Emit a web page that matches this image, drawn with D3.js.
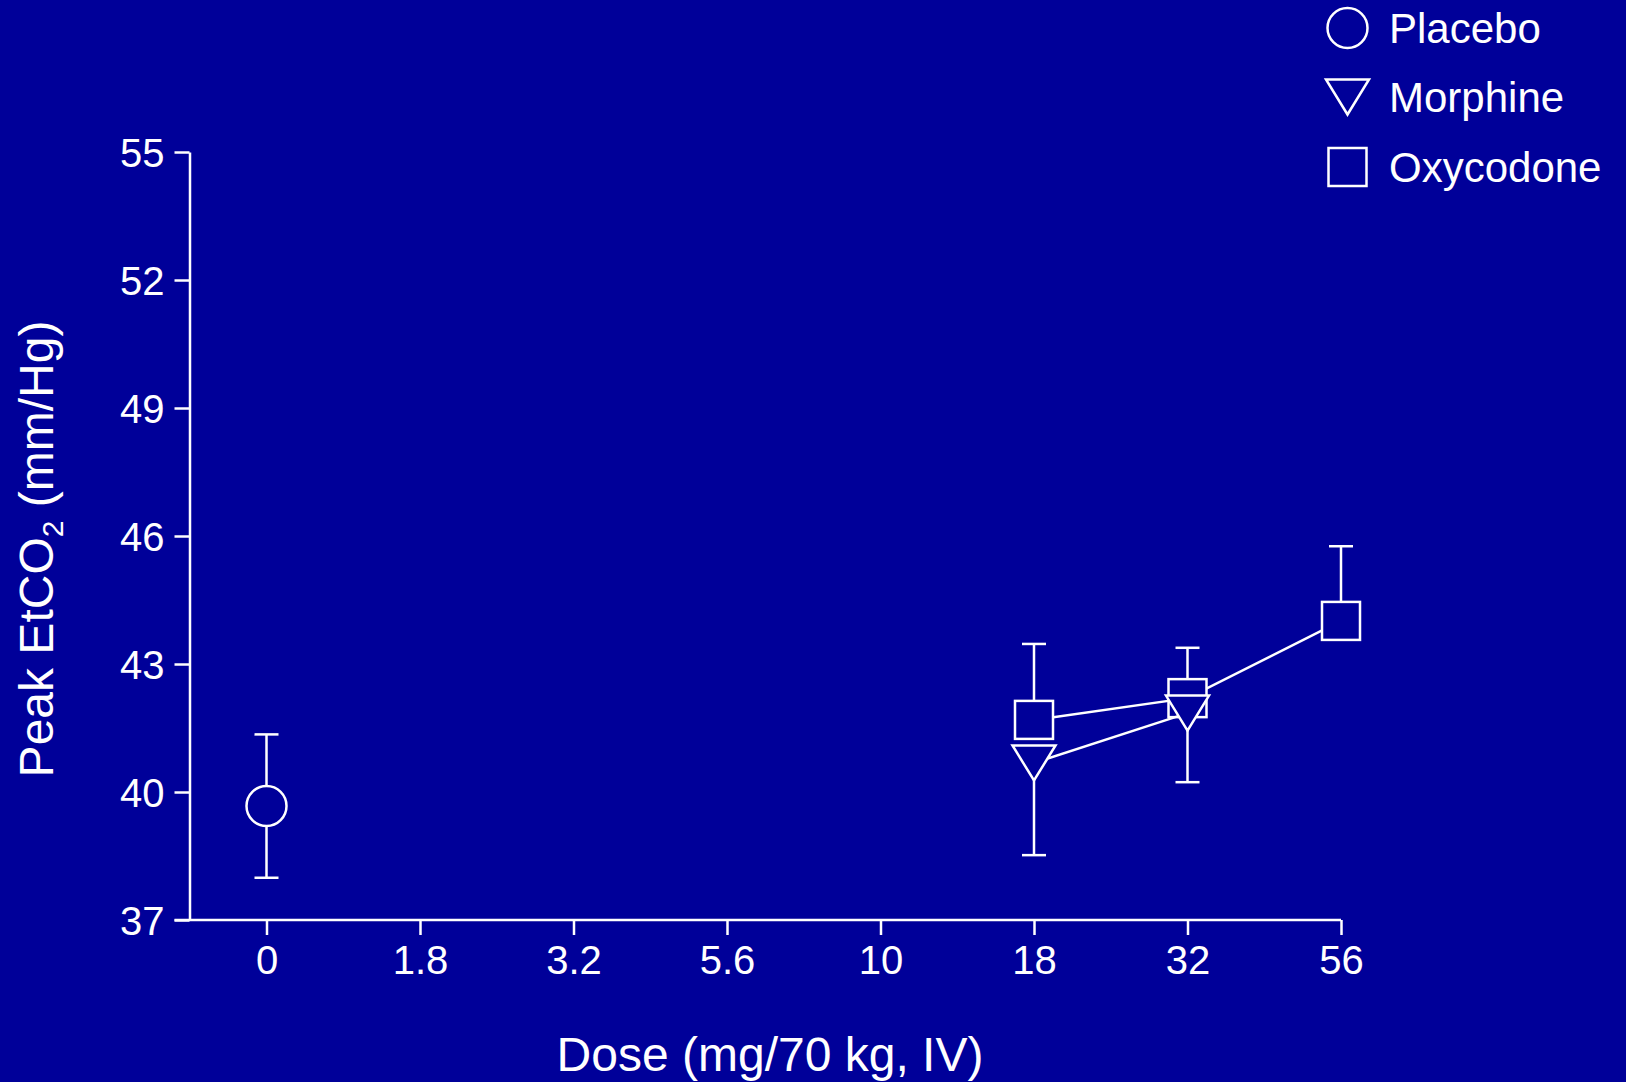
<!DOCTYPE html>
<html>
<head>
<meta charset="utf-8">
<script src="https://cdn.jsdelivr.net/npm/d3@7"></script>
<style>
html, body { margin: 0; padding: 0; background: #000099; }
svg { display: block; }
text { font-family: "Liberation Sans", Arial, sans-serif; fill: #ffffff; }
</style>
</head>
<body>
<svg id="chart" width="1626" height="1082"></svg>
<script>
// ---- data ----
const doseLabels = ["0", "1.8", "3.2", "5.6", "10", "18", "32", "56"];
const yTicks = [37, 40, 43, 46, 49, 52, 55];

const placeboDose = ["0"];
const placeboMean = [39.67];
const placeboSem = [1.68];

const morphineDose = ["18", "32"];
const morphineMean = [40.68, 41.85];
const morphineSem = [2.16, 1.62];

const oxycodoneDose = ["18", "32", "56"];
const oxycodoneMean = [41.69, 42.20, 44.01];
const oxycodoneSem = [1.78, 1.18, 1.75];

const seriesNames = ["Placebo", "Morphine", "Oxycodone"];

// ---- layout ----
const W = 1626, H = 1082;
const bg = "#000099";
const fg = "#ffffff";
const svg = d3.select("#chart");
svg.append("rect").attr("width", W).attr("height", H).attr("fill", bg);

const x = d3.scalePoint().domain(doseLabels).range([266.5, 1341]);
const y = d3.scaleLinear().domain([37, 55]).range([920, 152]);
const axisLeftX = 189.5;
const sw = 2.5;

// x axis
const gx = svg.append("g").attr("transform", `translate(0,${y(37)})`)
  .call(d3.axisBottom(x).tickSize(15).tickSizeOuter(0).tickPadding(10));
gx.select(".domain").attr("d", `M${axisLeftX - 15},0H${x("56")}`);
// y axis
const gy = svg.append("g").attr("transform", `translate(${axisLeftX},0)`)
  .call(d3.axisLeft(y).tickValues(yTicks).tickSize(15).tickSizeOuter(0).tickPadding(10));

[gx, gy].forEach(g => {
  g.selectAll("path, line").attr("stroke", fg).attr("stroke-width", sw);
  g.selectAll("text").attr("fill", fg).style("font-size", "40px")
    .style("font-family", '"Liberation Sans", Arial, sans-serif');
});
gx.selectAll("text").attr("dy", null).attr("y", 54);
gy.selectAll("text").attr("dy", "0.36em");

// axis titles
svg.append("text").attr("x", 770).attr("y", 1071).attr("text-anchor", "middle")
  .style("font-size", "48px").text("Dose (mg/70 kg, IV)");
const yl = svg.append("text").attr("transform", "translate(53,549) rotate(-90)")
  .attr("text-anchor", "middle").style("font-size", "48px");
yl.append("tspan").text("Peak EtCO");
yl.append("tspan").attr("dy", 10).style("font-size", "30px").text("2");
yl.append("tspan").attr("dy", -10).text(" (mm/Hg)");

// ---- marker shapes ----
function drawMarker(g, type, cx, cy) {
  if (type === "circle") {
    g.append("circle").attr("cx", cx).attr("cy", cy).attr("r", 20)
      .attr("fill", bg).attr("stroke", fg).attr("stroke-width", sw);
  } else if (type === "triangle") {
    const hw = 21.5, hh = 17.5;
    g.append("path").attr("d", `M${cx - hw},${cy - hh}L${cx + hw},${cy - hh}L${cx},${cy + hh}Z`)
      .attr("fill", bg).attr("stroke", fg).attr("stroke-width", sw).attr("stroke-linejoin", "miter");
  } else {
    const s = 38;
    g.append("rect").attr("x", cx - s / 2).attr("y", cy - s / 2).attr("width", s).attr("height", s)
      .attr("fill", bg).attr("stroke", fg).attr("stroke-width", sw);
  }
}

function drawSeries(doses, means, sems, type, dirs) {
  const g = svg.append("g");
  const pts = doses.map((d, i) => ({ x: x(d), m: means[i], s: sems[i] }));
  // error bars
  pts.forEach(p => {
    dirs.forEach(dir => {
      const end = y(p.m + dir * p.s);
      g.append("line").attr("x1", p.x).attr("x2", p.x).attr("y1", y(p.m)).attr("y2", end)
        .attr("stroke", fg).attr("stroke-width", sw);
      g.append("line").attr("x1", p.x - 12).attr("x2", p.x + 12).attr("y1", end).attr("y2", end)
        .attr("stroke", fg).attr("stroke-width", sw);
    });
  });
  // connecting line
  if (pts.length > 1) {
    g.append("path").datum(pts)
      .attr("d", d3.line().x(p => p.x).y(p => y(p.m)))
      .attr("fill", "none").attr("stroke", fg).attr("stroke-width", sw);
  }
  pts.forEach(p => drawMarker(g, type, p.x, y(p.m)));
}

drawSeries(placeboDose, placeboMean, placeboSem, "circle", [1, -1]);
drawSeries(oxycodoneDose, oxycodoneMean, oxycodoneSem, "square", [1]);
drawSeries(morphineDose, morphineMean, morphineSem, "triangle", [-1]);

// ---- legend ----
const legTypes = ["circle", "triangle", "square"];
const legY = [28, 97, 167];
const leg = svg.append("g");
seriesNames.forEach((name, i) => {
  drawMarker(leg, legTypes[i], 1347.5, legY[i]);
  leg.append("text").attr("x", 1389).attr("y", legY[i] + 15)
    .style("font-size", "42px").text(name);
});
</script>
</body>
</html>
